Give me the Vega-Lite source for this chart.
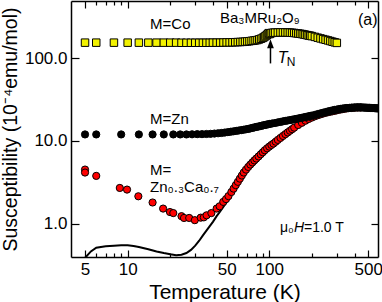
{
  "$schema": "https://vega.github.io/schema/vega-lite/v6.json",
  "width": 307,
  "height": 256,
  "autosize": {"type": "none"},
  "padding": {"left": 71, "top": 1, "right": 4, "bottom": 45},
  "config": {
    "view": {"stroke": null},
    "font": "Liberation Sans",
    "axis": {
      "grid": false,
      "domainColor": "black",
      "domainWidth": 1.5,
      "tickColor": "black",
      "tickWidth": 1.2,
      "labelColor": "black",
      "titleColor": "black",
      "labelFont": "Liberation Sans",
      "titleFont": "Liberation Sans",
      "labelFontSize": 17,
      "titleFontSize": 21,
      "titleFontWeight": "normal",
      "labelFlush": false,
      "labelOverlap": false
    }
  },
  "datasets": {
    "co": [
      {"T": 5, "chi": 155}, {"T": 6, "chi": 155}, {"T": 8, "chi": 155}, {"T": 10, "chi": 155},
      {"T": 12, "chi": 155}, {"T": 14, "chi": 155}, {"T": 16, "chi": 155}, {"T": 18, "chi": 155},
      {"T": 20, "chi": 155}, {"T": 22, "chi": 155}, {"T": 24, "chi": 154.5}, {"T": 26, "chi": 154.5},
      {"T": 28, "chi": 154.5}, {"T": 30, "chi": 154.5}, {"T": 32, "chi": 154.5}, {"T": 34, "chi": 154.5},
      {"T": 36, "chi": 154.5}, {"T": 38, "chi": 154.5}, {"T": 40, "chi": 155}, {"T": 42.5, "chi": 155},
      {"T": 45, "chi": 155}, {"T": 47.5, "chi": 155.5}, {"T": 50, "chi": 156}, {"T": 52.5, "chi": 156},
      {"T": 55, "chi": 156.5}, {"T": 57.5, "chi": 157}, {"T": 60, "chi": 157.5}, {"T": 62.5, "chi": 158},
      {"T": 65, "chi": 158.5}, {"T": 67.5, "chi": 159.5}, {"T": 70, "chi": 160.5}, {"T": 72.5, "chi": 161.5},
      {"T": 75, "chi": 163}, {"T": 77.5, "chi": 164}, {"T": 80, "chi": 165.5}, {"T": 82.5, "chi": 167},
      {"T": 85, "chi": 170}, {"T": 87.5, "chi": 173}, {"T": 90, "chi": 177}, {"T": 92, "chi": 181},
      {"T": 94, "chi": 186}, {"T": 96, "chi": 191}, {"T": 97.5, "chi": 196}, {"T": 99, "chi": 202},
      {"T": 100.5, "chi": 197}, {"T": 102, "chi": 201}, {"T": 104, "chi": 203}, {"T": 107, "chi": 204.5},
      {"T": 110, "chi": 205}, {"T": 115, "chi": 205.5}, {"T": 120, "chi": 206}, {"T": 125, "chi": 206},
      {"T": 130, "chi": 206}, {"T": 135, "chi": 205.5}, {"T": 140, "chi": 205}, {"T": 145, "chi": 204},
      {"T": 150, "chi": 203}, {"T": 155, "chi": 201.5}, {"T": 160, "chi": 200}, {"T": 165, "chi": 198.5},
      {"T": 170, "chi": 197}, {"T": 175, "chi": 195}, {"T": 180, "chi": 193}, {"T": 185, "chi": 191},
      {"T": 190, "chi": 189}, {"T": 195, "chi": 187.5}, {"T": 200, "chi": 186}, {"T": 210, "chi": 182},
      {"T": 220, "chi": 178}, {"T": 230, "chi": 174.5}, {"T": 240, "chi": 171}, {"T": 250, "chi": 168},
      {"T": 260, "chi": 165}, {"T": 270, "chi": 162}, {"T": 280, "chi": 159}, {"T": 290, "chi": 156.5},
      {"T": 300, "chi": 154}
    ],
    "zn": [
      {"T": 5, "chi": 12.0}, {"T": 6, "chi": 12.0}, {"T": 9, "chi": 12.0}, {"T": 12, "chi": 12.0},
      {"T": 15, "chi": 12.0}, {"T": 18, "chi": 12.0}, {"T": 21, "chi": 12.0}, {"T": 23.5, "chi": 12.0},
      {"T": 26, "chi": 12.0}, {"T": 28.5, "chi": 12.05}, {"T": 31, "chi": 12.1}, {"T": 33.5, "chi": 12.1},
      {"T": 36, "chi": 12.15}, {"T": 38.5, "chi": 12.2}, {"T": 41, "chi": 12.3}, {"T": 43.5, "chi": 12.4},
      {"T": 46, "chi": 12.5}, {"T": 48.5, "chi": 12.65}, {"T": 51, "chi": 12.8}, {"T": 53.5, "chi": 12.95},
      {"T": 56, "chi": 13.1}, {"T": 58.5, "chi": 13.25}, {"T": 61, "chi": 13.4}, {"T": 63.5, "chi": 13.55},
      {"T": 66, "chi": 13.7}, {"T": 68.5, "chi": 13.85}, {"T": 71, "chi": 14.0}, {"T": 73.5, "chi": 14.2},
      {"T": 76, "chi": 14.4}, {"T": 78.5, "chi": 14.6}, {"T": 81, "chi": 14.8}, {"T": 83.5, "chi": 14.95},
      {"T": 86, "chi": 15.1}, {"T": 88.5, "chi": 15.3}, {"T": 91, "chi": 15.5}, {"T": 93.5, "chi": 15.65},
      {"T": 96, "chi": 15.8}, {"T": 98.5, "chi": 15.95}, {"T": 101, "chi": 16.1}, {"T": 105, "chi": 16.3},
      {"T": 110, "chi": 16.5}, {"T": 115, "chi": 16.8}, {"T": 120, "chi": 17.0}, {"T": 125, "chi": 17.3},
      {"T": 130, "chi": 17.5}, {"T": 135, "chi": 17.7}, {"T": 140, "chi": 17.9}, {"T": 145, "chi": 18.1},
      {"T": 150, "chi": 18.3}, {"T": 155, "chi": 18.5}, {"T": 160, "chi": 18.7}, {"T": 165, "chi": 18.9},
      {"T": 170, "chi": 19.1}, {"T": 175, "chi": 19.3}, {"T": 180, "chi": 19.5}, {"T": 185, "chi": 19.7},
      {"T": 190, "chi": 19.9}, {"T": 195, "chi": 20.1}, {"T": 200, "chi": 20.3}, {"T": 210, "chi": 20.7},
      {"T": 220, "chi": 21.2}, {"T": 230, "chi": 21.6}, {"T": 240, "chi": 22.0}, {"T": 250, "chi": 22.4},
      {"T": 260, "chi": 22.8}, {"T": 270, "chi": 23.1}, {"T": 280, "chi": 23.5}, {"T": 290, "chi": 23.8},
      {"T": 300, "chi": 24.0}, {"T": 310, "chi": 24.3}, {"T": 320, "chi": 24.5}, {"T": 330, "chi": 24.7},
      {"T": 340, "chi": 24.9}, {"T": 350, "chi": 25.0}, {"T": 360, "chi": 25.1}, {"T": 370, "chi": 25.2},
      {"T": 380, "chi": 25.3}, {"T": 390, "chi": 25.4}, {"T": 400, "chi": 25.4}, {"T": 410, "chi": 25.5},
      {"T": 420, "chi": 25.5}, {"T": 430, "chi": 25.5}, {"T": 440, "chi": 25.5}, {"T": 450, "chi": 25.5},
      {"T": 460, "chi": 25.4}, {"T": 470, "chi": 25.4}, {"T": 480, "chi": 25.3}, {"T": 490, "chi": 25.3},
      {"T": 500, "chi": 25.2}, {"T": 510, "chi": 25.2}, {"T": 520, "chi": 25.1}, {"T": 530, "chi": 25.1},
      {"T": 540, "chi": 25.0}, {"T": 550, "chi": 25.0}, {"T": 560, "chi": 24.9}, {"T": 570, "chi": 24.9},
      {"T": 580, "chi": 24.8}, {"T": 590, "chi": 24.8}
    ],
    "zc": [
      {"T": 5, "chi": 4.51}, {"T": 5, "chi": 4.15}, {"T": 6, "chi": 3.78}, {"T": 8.8, "chi": 2.70},
      {"T": 9.9, "chi": 2.58}, {"T": 11.9, "chi": 2.14}, {"T": 15, "chi": 1.80}, {"T": 17.8, "chi": 1.52},
      {"T": 19.9, "chi": 1.38}, {"T": 21, "chi": 1.34}, {"T": 24, "chi": 1.23}, {"T": 25, "chi": 1.17},
      {"T": 27.2, "chi": 1.17}, {"T": 29.8, "chi": 1.10}, {"T": 32.8, "chi": 1.18}, {"T": 34.5, "chi": 1.19},
      {"T": 36.1, "chi": 1.26}, {"T": 39, "chi": 1.34}, {"T": 42.5, "chi": 1.52}, {"T": 44.6, "chi": 1.62},
      {"T": 47.3, "chi": 1.83}, {"T": 49.5, "chi": 1.98}, {"T": 51.5, "chi": 2.15}, {"T": 54, "chi": 2.41},
      {"T": 56, "chi": 2.65}, {"T": 58, "chi": 2.92}, {"T": 60, "chi": 3.2}, {"T": 62, "chi": 3.5},
      {"T": 64, "chi": 3.82}, {"T": 66, "chi": 4.15}, {"T": 68.5, "chi": 4.5}, {"T": 71, "chi": 4.85},
      {"T": 73.5, "chi": 5.18}, {"T": 76, "chi": 5.5}, {"T": 78.5, "chi": 5.82}, {"T": 81, "chi": 6.13},
      {"T": 84, "chi": 6.5}, {"T": 87, "chi": 6.9}, {"T": 90, "chi": 7.3}, {"T": 93, "chi": 7.72},
      {"T": 96.5, "chi": 8.15}, {"T": 100, "chi": 8.55}, {"T": 103.5, "chi": 8.95}, {"T": 107, "chi": 9.3},
      {"T": 111, "chi": 9.8}, {"T": 115, "chi": 10.3}, {"T": 120, "chi": 10.9}, {"T": 125, "chi": 11.5},
      {"T": 130, "chi": 12.1}, {"T": 135, "chi": 12.7}, {"T": 140, "chi": 13.3}, {"T": 145, "chi": 13.9},
      {"T": 150, "chi": 14.5}, {"T": 160, "chi": 15.6}, {"T": 170, "chi": 16.6}, {"T": 180, "chi": 17.6},
      {"T": 190, "chi": 18.5}, {"T": 200, "chi": 19.2}, {"T": 210, "chi": 19.9}, {"T": 220, "chi": 20.5},
      {"T": 230, "chi": 21.0}, {"T": 240, "chi": 21.5}, {"T": 250, "chi": 21.9}, {"T": 260, "chi": 22.3},
      {"T": 270, "chi": 22.6}, {"T": 280, "chi": 22.9}, {"T": 290, "chi": 23.2}, {"T": 300, "chi": 23.5},
      {"T": 315, "chi": 23.9}, {"T": 330, "chi": 24.3}, {"T": 345, "chi": 24.6}, {"T": 360, "chi": 24.9},
      {"T": 380, "chi": 25.1}, {"T": 400, "chi": 25.3}, {"T": 420, "chi": 25.4}, {"T": 440, "chi": 25.4}
    ],
    "fit": [
      {"T": 5, "chi": 0.385}, {"T": 5.5, "chi": 0.46}, {"T": 6, "chi": 0.51}, {"T": 7, "chi": 0.53},
      {"T": 8, "chi": 0.54}, {"T": 9, "chi": 0.545}, {"T": 10, "chi": 0.545}, {"T": 11, "chi": 0.535},
      {"T": 12, "chi": 0.52}, {"T": 14, "chi": 0.49}, {"T": 16, "chi": 0.46}, {"T": 18, "chi": 0.44},
      {"T": 20, "chi": 0.425}, {"T": 22, "chi": 0.415}, {"T": 24, "chi": 0.42}, {"T": 26, "chi": 0.44},
      {"T": 28, "chi": 0.48}, {"T": 30, "chi": 0.54}, {"T": 32, "chi": 0.62}, {"T": 34, "chi": 0.72},
      {"T": 36, "chi": 0.82}, {"T": 38, "chi": 0.93}, {"T": 40, "chi": 1.05}, {"T": 42.5, "chi": 1.23},
      {"T": 45, "chi": 1.4}, {"T": 47.5, "chi": 1.6}, {"T": 50, "chi": 1.82}, {"T": 52.5, "chi": 2.08},
      {"T": 55, "chi": 2.4}, {"T": 58, "chi": 2.85}, {"T": 62, "chi": 3.45}, {"T": 66, "chi": 4.1},
      {"T": 71, "chi": 4.8}, {"T": 76, "chi": 5.45}, {"T": 81, "chi": 6.1}, {"T": 87, "chi": 6.85},
      {"T": 93, "chi": 7.7}, {"T": 100, "chi": 8.5}, {"T": 110, "chi": 9.7}, {"T": 125, "chi": 11.5},
      {"T": 150, "chi": 14.5}, {"T": 200, "chi": 19.2}, {"T": 250, "chi": 21.9}, {"T": 300, "chi": 23.5}
    ],
    "notes": [
      {"id": "mco", "T": 14.4, "chi": 225, "label": "M=Co"},
      {"id": "mzn", "T": 14.4, "chi": 15.9, "label": "M=Zn"},
      {"id": "meq", "T": 14.4, "chi": 3.85, "label": "M="},
      {"id": "zc", "T": 14.4, "chi": 2.42, "label": "Zn₀.₃Ca₀.₇"},
      {"id": "ba", "T": 44.9, "chi": 270, "label": "Ba₃MRu₂O₉"},
      {"id": "a", "T": 423, "chi": 253, "label": "(a)"},
      {"id": "tn", "T": 115, "chi": 87.6, "label": "T"},
      {"id": "mu", "T": 119, "chi": 0.785, "label": "μ₀"}
    ],
    "arrow": [
      {"T": 102, "chi": 86.9, "chi2": 141, "tip": 150}
    ]
  },
  "layer": [
    {
      "data": {"name": "fit"},
      "mark": {"type": "line", "color": "black", "strokeWidth": 2, "clip": true},
      "encoding": {
        "x": {"field": "T", "type": "quantitative", "scale": {"type": "log", "domain": [3.98, 586], "nice": false},
          "axis": {"orient": "bottom", "values": [5, 10, 50, 100, 500], "format": "d", "tickSize": -7, "labelPadding": 11, "titlePadding": 4, "title": "Temperature (K)"}},
        "y": {"field": "chi", "type": "quantitative", "scale": {"type": "log", "domain": [0.394, 495], "nice": false},
          "axis": {"orient": "left", "values": [1, 10, 100], "format": ".1f", "tickSize": -8, "labelPadding": 12, "titleFontSize": 19.5, "titlePadding": 4, "title": "Susceptibility (10⁻⁴emu/mol)"}}
      }
    },
    {
      "data": {"name": "co"},
      "mark": {"type": "square", "size": 56, "fill": "#f2f200", "stroke": "black", "strokeWidth": 1, "opacity": 1, "clip": true},
      "encoding": {
        "x": {"field": "T", "type": "quantitative", "scale": {"type": "log", "domain": [3.98, 586], "nice": false},
          "axis": {"orient": "bottom", "values": [6, 7, 8, 9, 20, 30, 40, 60, 70, 80, 90, 200, 300, 400], "tickSize": -4, "labels": false, "domain": false, "title": null}},
        "y": {"field": "chi", "type": "quantitative", "scale": {"type": "log", "domain": [0.394, 495], "nice": false},
          "axis": {"orient": "right", "values": [1, 10, 100], "tickSize": -7, "labels": false, "title": null}}
      }
    },
    {
      "data": {"name": "zc"},
      "mark": {"type": "circle", "size": 52, "fill": "#ff0000", "stroke": "black", "strokeWidth": 1, "opacity": 1, "clip": true},
      "encoding": {
        "x": {"field": "T", "type": "quantitative", "scale": {"type": "log", "domain": [3.98, 586], "nice": false},
          "axis": {"orient": "top", "values": [5, 10, 50, 100, 500], "tickSize": -7, "labels": false, "title": null}},
        "y": {"field": "chi", "type": "quantitative", "scale": {"type": "log", "domain": [0.394, 495], "nice": false}, "axis": null}
      }
    },
    {
      "data": {"name": "zn"},
      "mark": {"type": "circle", "size": 52, "fill": "black", "stroke": "black", "strokeWidth": 1, "opacity": 1, "clip": true},
      "encoding": {
        "x": {"field": "T", "type": "quantitative", "scale": {"type": "log", "domain": [3.98, 586], "nice": false},
          "axis": {"orient": "top", "values": [6, 7, 8, 9, 20, 30, 40, 60, 70, 80, 90, 200, 300, 400], "tickSize": -4, "labels": false, "domain": false, "title": null}},
        "y": {"field": "chi", "type": "quantitative", "scale": {"type": "log", "domain": [0.394, 495], "nice": false}, "axis": null}
      }
    },
    {
      "data": {"name": "arrow"},
      "mark": {"type": "rule", "color": "black", "strokeWidth": 1.5},
      "encoding": {
        "x": {"field": "T", "type": "quantitative", "axis": null},
        "y": {"field": "chi", "type": "quantitative", "axis": null},
        "y2": {"field": "chi2"}
      }
    },
    {
      "data": {"name": "arrow"},
      "mark": {"type": "point", "shape": "M0,-1L0.75,1L-0.75,1Z", "size": 81, "filled": true, "color": "black", "opacity": 1},
      "encoding": {
        "x": {"field": "T", "type": "quantitative", "axis": null},
        "y": {"field": "tip", "type": "quantitative", "axis": null}
      }
    },
    {
      "data": {"name": "notes"},
      "transform": [{"filter": "indexof(['mco','mzn','meq','zc','ba'], datum.id) >= 0"}],
      "mark": {"type": "text", "align": "left", "baseline": "alphabetic", "fontSize": 15, "color": "black", "font": "Liberation Sans"},
      "encoding": {
        "x": {"field": "T", "type": "quantitative", "axis": null},
        "y": {"field": "chi", "type": "quantitative", "axis": null},
        "text": {"field": "label"}
      }
    },
    {
      "data": {"name": "notes"},
      "transform": [{"filter": "datum.id == 'a'"}],
      "mark": {"type": "text", "align": "left", "baseline": "alphabetic", "fontSize": 16, "color": "black", "font": "Liberation Sans"},
      "encoding": {
        "x": {"field": "T", "type": "quantitative", "axis": null},
        "y": {"field": "chi", "type": "quantitative", "axis": null},
        "text": {"field": "label"}
      }
    },
    {
      "data": {"name": "notes"},
      "transform": [{"filter": "datum.id == 'tn'"}],
      "mark": {"type": "text", "align": "left", "baseline": "alphabetic", "fontSize": 16, "fontStyle": "italic", "color": "black", "font": "Liberation Sans"},
      "encoding": {
        "x": {"field": "T", "type": "quantitative", "axis": null},
        "y": {"field": "chi", "type": "quantitative", "axis": null},
        "text": {"field": "label"}
      }
    },
    {
      "data": {"name": "notes"},
      "transform": [{"filter": "datum.id == 'tn'"}],
      "mark": {"type": "text", "align": "left", "baseline": "alphabetic", "fontSize": 12, "dx": 9, "dy": 3, "text": "N", "color": "black", "font": "Liberation Sans"},
      "encoding": {
        "x": {"field": "T", "type": "quantitative", "axis": null},
        "y": {"field": "chi", "type": "quantitative", "axis": null}
      }
    },
    {
      "data": {"name": "notes"},
      "transform": [{"filter": "datum.id == 'mu'"}],
      "mark": {"type": "text", "align": "left", "baseline": "alphabetic", "fontSize": 14, "color": "black", "font": "Liberation Sans"},
      "encoding": {
        "x": {"field": "T", "type": "quantitative", "axis": null},
        "y": {"field": "chi", "type": "quantitative", "axis": null},
        "text": {"field": "label"}
      }
    },
    {
      "data": {"name": "notes"},
      "transform": [{"filter": "datum.id == 'mu'"}],
      "mark": {"type": "text", "align": "left", "baseline": "alphabetic", "fontSize": 14, "fontStyle": "italic", "dx": 14, "text": "H", "color": "black", "font": "Liberation Sans"},
      "encoding": {
        "x": {"field": "T", "type": "quantitative", "axis": null},
        "y": {"field": "chi", "type": "quantitative", "axis": null}
      }
    },
    {
      "data": {"name": "notes"},
      "transform": [{"filter": "datum.id == 'mu'"}],
      "mark": {"type": "text", "align": "left", "baseline": "alphabetic", "fontSize": 14, "dx": 24, "text": "=1.0 T", "color": "black", "font": "Liberation Sans"},
      "encoding": {
        "x": {"field": "T", "type": "quantitative", "axis": null},
        "y": {"field": "chi", "type": "quantitative", "axis": null}
      }
    }
  ],
  "resolve": {"axis": {"x": "independent", "y": "independent"}}
}
